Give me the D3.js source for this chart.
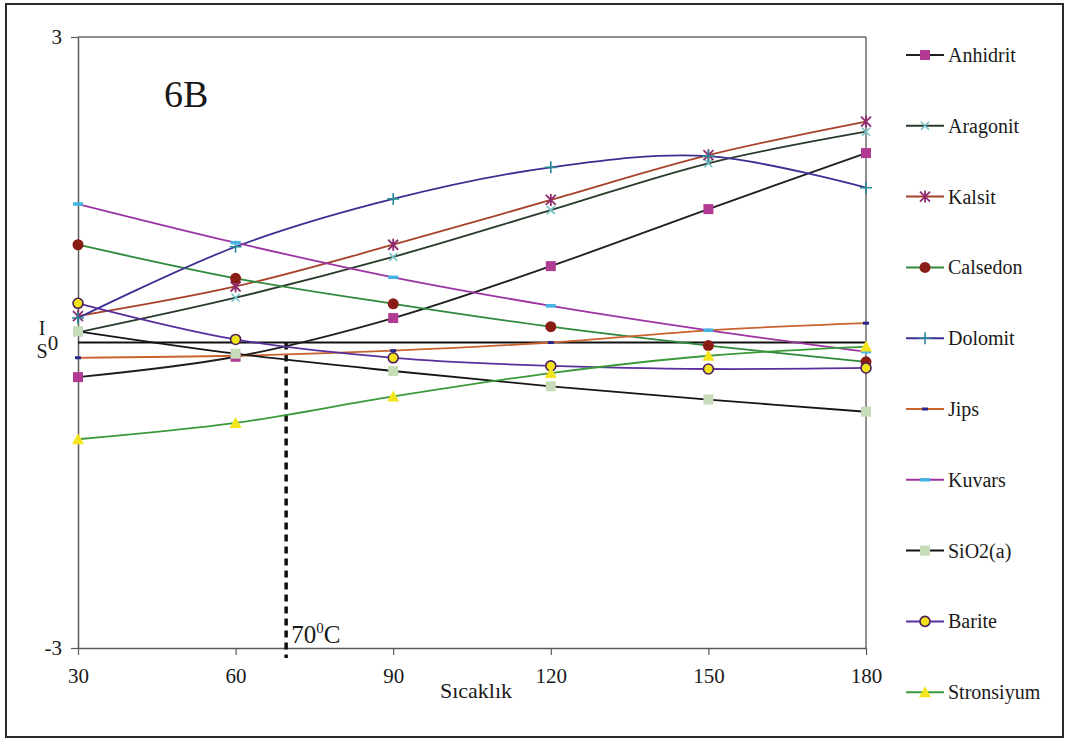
<!DOCTYPE html>
<html>
<head>
<meta charset="utf-8">
<script src="https://cdn.jsdelivr.net/npm/d3@7"></script>
<style>
  html, body { margin: 0; padding: 0; background: #ffffff; }
  svg { display: block; }
</style>
</head>
<body>
<svg id="chart" width="1066" height="740"></svg>
<script>
// Saturation-index data by temperature (°C)
const temperatures = [30, 60, 90, 120, 150, 180];
const xTicks = [30, 60, 90, 120, 150, 180];
const yTicks = [3, -3];

const seriesNames = ["Anhidrit", "Aragonit", "Kalsit", "Calsedon", "Dolomit",
                     "Jips", "Kuvars", "SiO2(a)", "Barite", "Stronsiyum"];

const anhidrit   = [-0.34, -0.14, 0.24, 0.75, 1.31, 1.86];
const aragonit   = [0.10, 0.44, 0.84, 1.30, 1.76, 2.07];
const kalsit     = [0.26, 0.55, 0.96, 1.40, 1.84, 2.17];
const calsedon   = [0.96, 0.63, 0.38, 0.155, -0.03, -0.19];
const dolomit    = [0.24, 0.94, 1.41, 1.72, 1.83, 1.52];
const jips       = [-0.15, -0.13, -0.08, 0.0, 0.12, 0.19];
const kuvars     = [1.36, 0.98, 0.64, 0.36, 0.12, -0.09];
const sio2a      = [0.11, -0.11, -0.28, -0.43, -0.56, -0.68];
const barite     = [0.385, 0.03, -0.15, -0.23, -0.26, -0.25];
const stronsiyum = [-0.95, -0.79, -0.53, -0.30, -0.13, -0.04];

const seriesValues = [anhidrit, aragonit, kalsit, calsedon, dolomit,
                      jips, kuvars, sio2a, barite, stronsiyum];

const markerLevel = 70; // temperature marked with the dashed line

const SERIF = "'Liberation Serif', 'Times New Roman', serif";

// Line colour, marker kind, marker fill, marker stroke
const styles = [
  { line: "#1e1e1e", mark: "square",   fill: "#b23a92", stroke: "#b23a92" },
  { line: "#2a3a2a", mark: "x",        fill: "none",    stroke: "#72c4c4" },
  { line: "#a8412c", mark: "asterisk", fill: "none",    stroke: "#8e2a70" },
  { line: "#2f8a3c", mark: "circle",   fill: "#8a1c16", stroke: "#8a1c16" },
  { line: "#3b2f92", mark: "plus",     fill: "none",    stroke: "#2a8a98" },
  { line: "#c9622e", mark: "dashS",    fill: "none",    stroke: "#28288c" },
  { line: "#9c34a2", mark: "dashL",    fill: "none",    stroke: "#44b4e4" },
  { line: "#151515", mark: "square",   fill: "#c6dcb8", stroke: "#c6dcb8" },
  { line: "#5a2f9c", mark: "ring",     fill: "#f2e21c", stroke: "#4a1f5a" },
  { line: "#3a9a3a", mark: "triangle", fill: "#f4e41c", stroke: "#f4e41c" }
];

const svg = d3.select("#chart")
  .attr("font-family", SERIF);

// outer frame
svg.append("rect")
  .attr("x", 6).attr("y", 4).attr("width", 1057).attr("height", 733)
  .attr("fill", "#ffffff").attr("stroke", "#2a2a2a").attr("stroke-width", 2);

const plot = { left: 78, right: 866, top: 37, bottom: 648 };

const x = d3.scaleLinear().domain([30, 180]).range([plot.left, plot.right]);
const y = d3.scaleLinear().domain([-3, 3]).range([plot.bottom, plot.top]);

// plot borders (top and right)
svg.append("line")
  .attr("x1", plot.left).attr("x2", plot.right).attr("y1", plot.top).attr("y2", plot.top)
  .attr("stroke", "#6a6a6a").attr("stroke-width", 1.5);
svg.append("line")
  .attr("x1", plot.right).attr("x2", plot.right).attr("y1", plot.top).attr("y2", plot.bottom)
  .attr("stroke", "#6a6a6a").attr("stroke-width", 1.5);

// axes
const xAxis = d3.axisBottom(x).tickValues(xTicks).tickSize(7).tickSizeOuter(0).tickPadding(13);
const gx = svg.append("g").attr("transform", `translate(0,${plot.bottom})`).call(xAxis);
gx.attr("font-family", SERIF);
gx.select(".domain").attr("stroke", "#5a5a5a").attr("stroke-width", 1.5);
gx.selectAll(".tick line").attr("stroke", "#5a5a5a").attr("stroke-width", 1.2);
gx.selectAll(".tick text").attr("font-size", 21).attr("fill", "#1a1a1a");

const yAxis = d3.axisLeft(y).tickValues(yTicks).tickSize(7).tickSizeOuter(0).tickPadding(9)
  .tickFormat(d => String(d));
const gy = svg.append("g").attr("transform", `translate(${plot.left},0)`).call(yAxis);
gy.attr("font-family", SERIF);
gy.select(".domain").attr("stroke", "#5a5a5a").attr("stroke-width", 1.5);
gy.selectAll(".tick line").attr("stroke", "#5a5a5a").attr("stroke-width", 1.2);
gy.selectAll(".tick text").attr("font-size", 21).attr("fill", "#1a1a1a");

// zero label with the stacked "I" / "S" axis letters
svg.append("text").attr("x", 53).attr("y", y(0) + 7).attr("text-anchor", "middle")
  .attr("font-size", 21).attr("fill", "#1a1a1a").text("0");
svg.append("text").attr("x", 42).attr("y", y(0) - 8).attr("text-anchor", "middle")
  .attr("font-size", 20).attr("fill", "#1a1a1a").text("I");
svg.append("text").attr("x", 42).attr("y", y(0) + 15).attr("text-anchor", "middle")
  .attr("font-size", 20).attr("fill", "#1a1a1a").text("S");

// x axis title
svg.append("text").attr("x", 476).attr("y", 698).attr("text-anchor", "middle")
  .attr("font-size", 22).attr("fill", "#1a1a1a").text("Sıcaklık");

// panel label
svg.append("text").attr("x", 164).attr("y", 107).attr("font-size", 38)
  .attr("fill", "#1a1a1a").text("6B");

// saturation line at zero
svg.append("line")
  .attr("x1", x(30)).attr("x2", x(180)).attr("y1", y(0)).attr("y2", y(0))
  .attr("stroke", "#111111").attr("stroke-width", 2.2);

// dashed temperature marker
svg.append("line")
  .attr("x1", x(markerLevel) - 2).attr("x2", x(markerLevel) - 2)
  .attr("y1", y(0)).attr("y2", plot.bottom + 10)
  .attr("stroke", "#111111").attr("stroke-width", 3.5)
  .attr("stroke-dasharray", "7,5");

const lbl = svg.append("text").attr("x", x(markerLevel) + 3).attr("y", 643)
  .attr("font-size", 25).attr("fill", "#1a1a1a");
lbl.append("tspan").text("70");
lbl.append("tspan").attr("font-size", 15).attr("dy", -10).text("0");
lbl.append("tspan").attr("dy", 10).text("C");

// marker drawing
function drawMarker(g, kind, st, cx, cy) {
  const s = st.stroke;
  switch (kind) {
    case "square":
      g.append("rect").attr("x", cx - 5).attr("y", cy - 5).attr("width", 10).attr("height", 10)
        .attr("fill", st.fill);
      break;
    case "x":
      g.append("path").attr("d", `M${cx-4},${cy-4}L${cx+4},${cy+4}M${cx-4},${cy+4}L${cx+4},${cy-4}`)
        .attr("stroke", s).attr("stroke-width", 1.6).attr("fill", "none");
      break;
    case "asterisk":
      g.append("path").attr("d", `M${cx-5},${cy-5}L${cx+5},${cy+5}M${cx-5},${cy+5}L${cx+5},${cy-5}M${cx},${cy-6}L${cx},${cy+6}`)
        .attr("stroke", s).attr("stroke-width", 1.8).attr("fill", "none");
      break;
    case "circle":
      g.append("circle").attr("cx", cx).attr("cy", cy).attr("r", 5.5).attr("fill", st.fill);
      break;
    case "plus":
      g.append("path").attr("d", `M${cx-6},${cy}L${cx+6},${cy}M${cx},${cy-6}L${cx},${cy+6}`)
        .attr("stroke", s).attr("stroke-width", 1.6).attr("fill", "none");
      break;
    case "dashS":
      g.append("path").attr("d", `M${cx-3},${cy}L${cx+3},${cy}`)
        .attr("stroke", s).attr("stroke-width", 3).attr("fill", "none");
      break;
    case "dashL":
      g.append("path").attr("d", `M${cx-5},${cy}L${cx+5},${cy}`)
        .attr("stroke", s).attr("stroke-width", 3.5).attr("fill", "none");
      break;
    case "ring":
      g.append("circle").attr("cx", cx).attr("cy", cy).attr("r", 5)
        .attr("fill", st.fill).attr("stroke", s).attr("stroke-width", 1.6);
      break;
    case "triangle":
      g.append("path").attr("d", `M${cx},${cy-6}L${cx+6},${cy+5}L${cx-6},${cy+5}Z`)
        .attr("fill", st.fill);
      break;
  }
}

const line = d3.line()
  .x((d, i) => x(temperatures[i]))
  .y(d => y(d))
  .curve(d3.curveCatmullRom.alpha(0.5));

const linesG = svg.append("g");
const marksG = svg.append("g");

seriesValues.forEach((vals, k) => {
  const st = styles[k];
  linesG.append("path").datum(vals)
    .attr("d", line)
    .attr("fill", "none")
    .attr("stroke", st.line)
    .attr("stroke-width", 1.8);
  vals.forEach((v, i) => {
    drawMarker(marksG, st.mark, st, x(temperatures[i]), y(v));
  });
});

// legend
const legend = svg.append("g");
seriesNames.forEach((name, k) => {
  const st = styles[k];
  const ly = 55 + k * 70.8;
  legend.append("line")
    .attr("x1", 906).attr("x2", 944).attr("y1", ly).attr("y2", ly)
    .attr("stroke", st.line).attr("stroke-width", 2);
  drawMarker(legend, st.mark, st, 925, ly);
  legend.append("text").attr("x", 948).attr("y", ly + 7)
    .attr("font-size", 20).attr("fill", "#1a1a1a").text(name);
});
</script>
</body>
</html>
